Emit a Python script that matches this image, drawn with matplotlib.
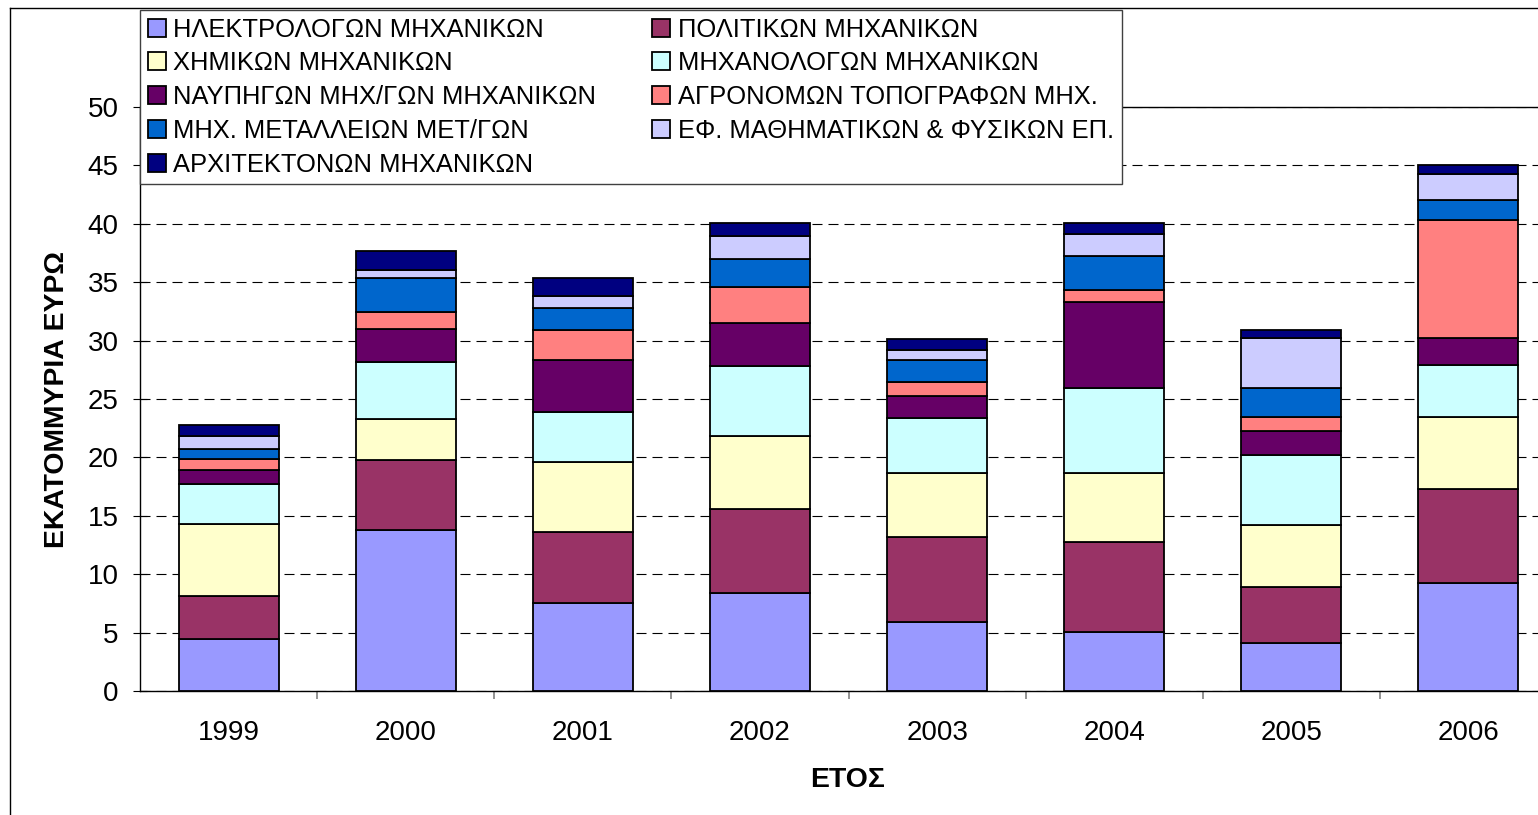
import numpy as np
import matplotlib
matplotlib.use('Agg')
import matplotlib.pyplot as plt
from matplotlib.lines import Line2D

plt.rcParams['font.family'] = ['Liberation Sans', 'DejaVu Sans']

# Years on the x axis
years = ['1999', '2000', '2001', '2002', '2003', '2004', '2005', '2006']

# Million euro per department (bottom to top)
ilektrologon = [4.42, 13.78, 7.50, 8.36, 5.93, 5.08, 4.07, 9.25]
politikon = [3.71, 6.00, 6.14, 7.19, 7.23, 7.70, 4.82, 8.07]
chimikon = [6.20, 3.48, 6.00, 6.31, 5.48, 5.86, 5.33, 6.17]
michanologon = [3.37, 4.94, 4.25, 5.99, 4.76, 7.33, 5.99, 4.43]
naupigon = [1.20, 2.77, 4.48, 3.63, 1.88, 7.31, 2.08, 2.26]
agronomon = [1.00, 1.51, 2.57, 3.08, 1.20, 1.05, 1.20, 10.12]
metalleion = [0.80, 2.91, 1.85, 2.40, 1.86, 2.94, 2.41, 1.75]
efarmosmenon = [1.16, 0.66, 1.00, 2.02, 0.86, 1.83, 4.28, 2.23]
architektonon = [0.91, 1.62, 1.60, 1.12, 0.94, 1.00, 0.75, 0.78]

labels = ['ΗΛΕΚΤΡΟΛΟΓΩΝ ΜΗΧΑΝΙΚΩΝ', 'ΠΟΛΙΤΙΚΩΝ ΜΗΧΑΝΙΚΩΝ', 'ΧΗΜΙΚΩΝ ΜΗΧΑΝΙΚΩΝ',
          'ΜΗΧΑΝΟΛΟΓΩΝ ΜΗΧΑΝΙΚΩΝ', 'ΝΑΥΠΗΓΩΝ ΜΗΧ/ΓΩΝ ΜΗΧΑΝΙΚΩΝ', 'ΑΓΡΟΝΟΜΩΝ ΤΟΠΟΓΡΑΦΩΝ ΜΗΧ.',
          'ΜΗΧ. ΜΕΤΑΛΛΕΙΩΝ ΜΕΤ/ΓΩΝ', 'ΕΦ. ΜΑΘΗΜΑΤΙΚΩΝ & ΦΥΣΙΚΩΝ ΕΠ.', 'ΑΡΧΙΤΕΚΤΟΝΩΝ ΜΗΧΑΝΙΚΩΝ']
colors = ['#9999FF', '#993366', '#FFFFCC', '#CCFFFF', '#660066',
          '#FF8080', '#0066CC', '#CCCCFF', '#000080']

series = [ilektrologon, politikon, chimikon, michanologon, naupigon,
          agronomon, metalleion, efarmosmenon, architektonon]

W, H = 1538, 815
fig = plt.figure(figsize=(W / 100, H / 100), dpi=100)
ax = fig.add_axes([140 / W, 1 - 691 / H, 1417 / W, 584 / H])

x = np.arange(len(years))
bottom = np.zeros(len(years))
handles = []
for vals, lab, col in zip(series, labels, colors):
    b = ax.bar(x, vals, width=0.565, bottom=bottom, color=col,
               edgecolor='black', linewidth=1.3, label=lab, zorder=3)
    handles.append(b)
    bottom += np.array(vals)

ax.set_xlim(-0.5, len(years) - 0.5)
ax.set_ylim(0, 50)
ax.set_yticks(np.arange(0, 51, 5))
ax.yaxis.grid(True, color='black', linewidth=0.8, linestyle=(0, (9, 5.4)))
ax.set_axisbelow(True)

ax.set_xticks(x)
ax.set_xticklabels(years, fontsize=20)
ax.set_xticks(np.arange(0.5, len(years) - 0.5, 1), minor=True)
ax.tick_params(axis='x', which='major', length=0, pad=21)
ax.tick_params(axis='x', which='minor', length=8 * 0.72, color='#808080', width=1.2)
ax.tick_params(axis='y', direction='inout', length=10.5, width=0.8, labelsize=20, pad=10)

ax.spines['right'].set_visible(False)
ax.spines['left'].set_linewidth(1.0)
ax.spines['bottom'].set_linewidth(1.0)
ax.spines['top'].set_linewidth(1.0)

fig.text(57.5 / W, 1 - 400 / H, 'ΕΚΑΤΟΜΜΥΡΙΑ ΕΥΡΩ', rotation=90, fontsize=20.4,
         fontweight='bold', ha='center', va='center')
fig.text(848 / W, 1 - 780 / H, 'ΕΤΟΣ', fontsize=20.4, fontweight='bold',
         ha='center', va='center')

# legend in row-major order like the original
order = [0, 2, 4, 6, 8, 1, 3, 5, 7]
leg = fig.legend([handles[i] for i in order], [labels[i] for i in order],
                 loc='upper left', ncol=2,
                 bbox_to_anchor=(140 / W, 1 - 10 / H),
                 fontsize=18.4, frameon=True, fancybox=False, framealpha=1,
                 edgecolor='#404040', borderpad=0.3, labelspacing=0.38,
                 handlelength=0.7, handleheight=0.7, handletextpad=0.3,
                 columnspacing=2.2, borderaxespad=0)
leg.get_frame().set_linewidth(1.0)

# outer chart border
fig.add_artist(Line2D([10 / W, 10 / W], [0, 1 - 8 / H], color='black', linewidth=1.0))
fig.add_artist(Line2D([10 / W, 1], [1 - 8 / H, 1 - 8 / H], color='black', linewidth=1.0))

fig.savefig('out.png', dpi=100)
